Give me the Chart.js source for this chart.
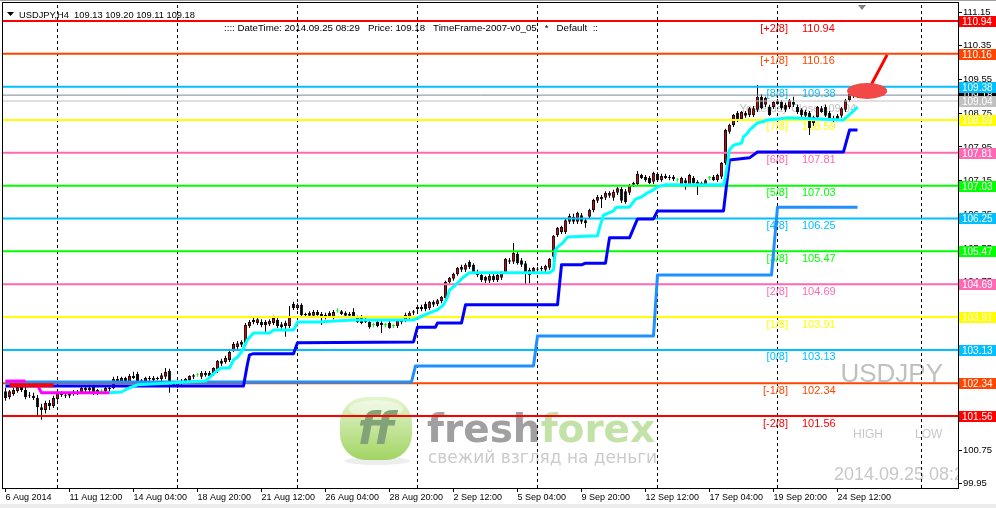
<!DOCTYPE html>
<html>
<head>
<meta charset="utf-8">
<script src="https://cdn.jsdelivr.net/npm/chart.js@4.4.1/dist/chart.umd.min.js"></script>
<style>
  html, body { margin: 0; padding: 0; background: #fff; }
  #wrap { width: 996px; height: 508px; }
</style>
</head>
<body>
<div id="wrap"><canvas id="chart" width="996" height="508"></canvas></div>
<script>
// USDJPY H4 candles, 6 Aug 20:00 .. 25 Sep 08:00
const opens = [
  102.15,102.01,102.08,102.15,102.25,102.18,102.06,102.04,101.99,101.77,
  101.70,101.87,101.80,101.96,102.11,102.06,102.04,102.08,102.13,102.11,
  102.23,102.18,102.25,102.11,102.15,102.15,102.23,102.22,102.44,102.39,
  102.46,102.37,102.51,102.56,102.37,102.39,102.46,102.41,102.46,102.44,
  102.49,102.63,102.34,102.27,102.34,102.37,102.41,102.49,102.53,102.49,
  102.58,102.58,102.56,102.65,102.87,102.84,102.89,103.13,103.20,103.32,
  103.29,103.70,103.79,103.77,103.79,103.79,103.74,103.77,103.84,103.74,
  103.70,103.70,104.22,104.12,104.20,103.98,104.01,103.94,104.03,103.98,
  103.96,104.01,103.91,104.05,104.05,104.01,103.98,104.03,103.89,103.91,
  103.84,103.79,103.72,103.79,103.77,103.72,103.77,103.70,103.70,103.82,
  103.84,103.89,104.01,104.15,104.10,104.22,104.12,104.27,104.22,104.29,
  104.36,104.74,104.82,104.93,105.10,105.03,105.22,105.15,104.98,104.91,
  104.86,104.77,104.89,104.79,104.84,104.98,105.26,105.22,105.41,105.26,
  105.19,105.03,104.98,105.05,105.05,105.03,105.08,105.34,105.86,105.93,
  105.93,106.17,106.29,106.17,106.33,106.21,106.29,106.45,106.67,106.76,
  106.74,106.79,106.74,106.86,106.95,106.90,106.86,107.05,107.07,107.28,
  107.24,107.21,107.12,107.31,107.16,107.26,107.21,107.24,107.16,107.07,
  107.16,107.07,107.21,107.12,107.07,107.07,107.21,107.24,107.16,107.24,
  107.57,108.31,108.47,108.76,108.61,108.76,108.71,108.71,108.83,109.14,
  108.95,108.90,108.90,109.04,109.02,108.95,108.90,109.02,108.90,108.83,
  108.78,108.76,108.52,108.66,108.87,108.90,108.76,108.64,108.69,108.69,
  108.83,109.06,109.21,109.13
];
const highs = [
  102.23,102.18,102.23,102.30,102.30,102.27,102.13,102.11,102.06,101.85,
  101.92,101.94,102.04,102.15,102.15,102.11,102.13,102.18,102.18,102.27,
  102.27,102.30,102.30,102.20,102.20,102.27,102.27,102.49,102.51,102.49,
  102.49,102.56,102.61,102.61,102.44,102.49,102.51,102.51,102.49,102.58,
  102.70,102.68,102.39,102.39,102.44,102.46,102.53,102.56,102.58,102.63,
  102.63,102.63,102.72,102.89,102.92,102.99,103.13,103.32,103.34,103.36,
  103.77,103.84,103.89,103.91,103.86,103.84,103.86,103.94,103.89,103.79,
  103.82,104.17,104.27,104.24,104.24,104.01,104.05,104.08,104.08,104.03,
  104.01,104.05,104.08,104.12,104.08,104.05,104.03,104.12,103.94,103.96,
  103.89,103.84,103.77,103.84,103.82,103.77,103.82,103.74,103.86,103.86,
  104.01,104.05,104.08,104.20,104.20,104.27,104.29,104.31,104.34,104.41,
  104.77,104.86,104.96,105.10,105.15,105.19,105.26,105.19,105.03,104.96,
  104.89,104.93,104.93,104.96,105.00,105.31,105.31,105.67,105.46,105.31,
  105.24,105.08,105.10,105.10,105.12,105.15,105.31,105.86,106.05,106.08,
  106.24,106.36,106.36,106.41,106.38,106.26,106.48,106.72,106.81,106.81,
  106.90,106.90,106.93,107.00,107.00,106.95,107.07,107.12,107.38,107.31,
  107.28,107.26,107.36,107.35,107.31,107.31,107.28,107.28,107.21,107.24,
  107.21,107.31,107.26,107.16,107.12,107.19,107.26,107.28,107.31,107.59,
  108.38,108.50,108.73,108.80,108.80,108.80,108.90,108.92,109.42,109.20,
  109.14,108.95,109.04,109.09,109.06,109.00,109.09,109.14,108.95,108.87,
  108.83,108.80,108.69,108.92,108.92,108.95,108.80,108.69,108.73,108.90,
  109.09,109.23,109.25,109.20
];
const lows = [
  101.92,101.96,102.04,102.11,102.13,101.96,101.99,101.94,101.54,101.47,
  101.62,101.70,101.75,101.92,102.01,101.99,101.99,102.04,102.06,102.08,
  102.13,102.13,102.06,102.06,102.11,102.11,102.15,102.20,102.37,102.34,
  102.34,102.32,102.44,102.32,102.34,102.34,102.39,102.37,102.41,102.39,
  102.44,102.11,102.25,102.23,102.30,102.32,102.37,102.44,102.49,102.44,
  102.49,102.46,102.51,102.58,102.75,102.80,102.84,103.08,103.15,103.20,
  103.25,103.65,103.74,103.72,103.67,103.55,103.70,103.72,103.65,103.63,
  103.44,103.65,104.08,104.08,103.91,103.91,103.89,103.89,103.94,103.72,
  103.86,103.89,103.86,104.01,103.96,103.91,103.91,103.89,103.77,103.74,
  103.77,103.63,103.67,103.67,103.53,103.67,103.63,103.65,103.65,103.74,
  103.79,103.84,103.96,104.05,104.05,104.05,104.08,104.15,104.17,104.24,
  104.31,104.70,104.77,104.89,104.98,104.98,105.05,104.93,104.86,104.74,
  104.72,104.72,104.74,104.74,104.79,104.93,105.17,105.17,105.15,105.10,
  104.67,104.71,104.93,105.00,105.00,104.98,105.03,105.29,105.81,105.88,
  105.88,106.12,106.12,106.12,106.12,106.03,106.24,106.40,106.62,106.50,
  106.69,106.74,106.67,106.81,106.62,106.60,106.81,107.00,107.02,107.19,
  107.12,107.07,107.07,107.12,107.12,107.19,107.16,107.14,107.12,107.02,
  106.93,107.02,107.05,106.81,107.02,107.02,107.16,107.14,107.12,107.19,
  107.52,108.26,108.42,108.54,108.57,108.64,108.66,108.66,108.78,108.85,
  108.90,108.69,108.85,108.95,108.83,108.78,108.85,108.90,108.73,108.66,
  108.64,108.23,108.45,108.61,108.76,108.66,108.57,108.54,108.57,108.64,
  108.78,109.02,109.11,109.11
];
const closes = [
  101.99,102.15,102.18,102.25,102.18,102.01,102.04,101.99,101.77,101.70,
  101.87,101.80,101.99,102.11,102.06,102.04,102.08,102.13,102.11,102.23,
  102.18,102.23,102.11,102.18,102.15,102.23,102.20,102.44,102.39,102.46,
  102.37,102.51,102.46,102.37,102.41,102.46,102.44,102.46,102.44,102.53,
  102.61,102.34,102.27,102.34,102.39,102.44,102.51,102.53,102.53,102.58,
  102.53,102.51,102.70,102.87,102.80,102.94,103.08,103.27,103.29,103.25,
  103.72,103.79,103.84,103.86,103.72,103.72,103.82,103.89,103.70,103.67,
  103.77,103.94,104.12,104.20,103.96,103.96,103.94,104.03,103.96,103.91,
  103.91,103.91,104.03,104.05,103.98,103.94,103.94,103.91,103.79,103.77,
  103.79,103.67,103.72,103.70,103.72,103.72,103.65,103.70,103.82,103.79,
  103.96,104.01,104.05,104.10,104.15,104.10,104.27,104.20,104.31,104.39,
  104.74,104.84,104.93,105.08,105.03,105.15,105.10,104.98,104.91,104.79,
  104.77,104.89,104.79,104.91,104.96,105.29,105.22,105.43,105.19,105.15,
  104.98,104.91,105.08,105.03,105.08,105.12,105.29,105.84,106.03,106.05,
  106.21,106.31,106.17,106.38,106.17,106.14,106.45,106.69,106.76,106.71,
  106.86,106.86,106.88,106.97,106.67,106.64,107.05,107.09,107.31,107.21,
  107.16,107.09,107.33,107.16,107.26,107.21,107.24,107.19,107.16,107.21,
  107.09,107.28,107.09,107.05,107.09,107.16,107.21,107.16,107.28,107.57,
  108.35,108.47,108.71,108.57,108.78,108.69,108.87,108.87,109.14,108.87,
  109.11,108.71,109.02,108.97,108.87,108.83,109.06,108.95,108.78,108.71,
  108.69,108.40,108.66,108.90,108.78,108.69,108.61,108.59,108.59,108.87,
  109.06,109.21,109.16,109.18
];

// Murrey Math levels
const levelPrices = [110.94, 110.16, 109.38, 108.59, 107.81, 107.03, 106.25, 105.47, 104.69, 103.91, 103.13, 102.34, 101.56];
const levelNames = ["[+2/8]", "[+1/8]", "[8/8]", "[7/8]", "[6/8]", "[5/8]", "[4/8]", "[3/8]", "[2/8]", "[1/8]", "[0/8]", "[-1/8]", "[-2/8]"];
const levelColors = ["#ff0000", "#ff4500", "#00bfff", "#ffff00", "#ff69b4", "#00ff00", "#00bfff", "#00ff00", "#ff69b4", "#ffff00", "#00bfff", "#ff4500", "#ff0000"];
const yesterdayClose = 109.04;
const bidPrice = 109.18;

// indicator lines, [bar index, price]
const cyanLine = [
  [26,102.11],[29,102.13],[31,102.23],[33,102.30],[40,102.34],[50,102.39],[53,102.65],[54,102.70],
  [56,102.70],[57,102.89],[58,102.96],[59,103.08],[60.5,103.37],[62,103.53],[66,103.53],[67,103.60],
  [72,103.60],[73,103.79],[78,103.79],[87,103.84],[102,103.84],[106,104.01],[108,104.08],[109.5,104.20],
  [110.5,104.39],[111,104.55],[112.5,104.67],[114.5,104.86],[116,104.96],[136,104.96],[137,105.03],
  [137.5,105.50],[138,105.57],[139.5,105.69],[140.5,105.81],[148,105.84],[148.5,106.03],[149.5,106.33],
  [152,106.43],[152.5,106.50],[153,106.52],[156,106.52],[157.5,106.71],[159,106.76],[160.5,106.86],
  [162,106.93],[163,107.00],[165,107.05],[179.5,107.05],[180,107.24],[181,107.88],[182,107.99],
  [184,108.04],[184.5,108.19],[185.5,108.28],[186,108.35],[188,108.52],[189,108.54],[190.5,108.59],
  [193,108.61],[195.5,108.64],[209.5,108.59],[211.75,108.78],[213,108.90]
];
const magentaStart = [[0,102.39],[5,102.39]];
const redStart = [[1,102.29],[12,102.29]];
const magentaLow = [[8,102.29],[9,102.11],[26,102.11]];
const blueLine = [
  [0,102.27],[59.5,102.27],[60.5,102.80],[61,103.01],[62,103.04],[72,103.04],[73,103.30],[102,103.32],
  [103,103.67],[107.5,103.67],[108,103.77],[114,103.77],[115,104.20],[138,104.20],[139,105.15],
  [144,105.15],[145,105.19],[150,105.19],[151,105.79],[156,105.79],[158,106.24],[162,106.24],
  [163,106.43],[179.5,106.43],[181,107.64],[186,107.69],[188,107.83],[209.5,107.83],[211,108.35],[213,108.35]
];
const dodgerLine = [
  [0,102.37],[101.5,102.37],[102.5,102.75],[132,102.75],[133,103.46],[162,103.46],
  [163,104.91],[191.5,104.91],[193,106.52],[213,106.52]
];

// axes
const yTicks = [111.15, 110.35, 109.55, 108.75, 107.95, 107.15, 106.35, 105.55, 104.75, 103.95, 103.15, 102.35, 101.55, 100.75, 99.95];
const xTickIdx = [0, 16, 32, 48, 64, 80, 96, 112, 128, 144, 160, 176, 192, 208];
const xTickLabels = ["6 Aug 2014", "11 Aug 12:00", "14 Aug 04:00", "18 Aug 20:00", "21 Aug 12:00", "26 Aug 04:00",
  "28 Aug 20:00", "2 Sep 12:00", "5 Sep 04:00", "9 Sep 20:00", "12 Sep 12:00", "17 Sep 04:00", "19 Sep 20:00", "24 Sep 12:00"];
const gridIdx = [13, 43, 73, 103, 133, 163, 193, 229];

const xMin = -0.625, xMax = 238.125;
const yMin = 99.85, yMax = 111.3675;
const last = closes.length - 1;
const FONT = "'Liberation Sans', Arial, sans-serif";

const isDoji = i => opens[i] === closes[i];
const bodyFill = opens.map((o, i) => isDoji(i) ? "#00ff00" : closes[i] > o ? "#ff0000" : "#000000");
const edgeColor = opens.map((o, i) => isDoji(i) ? "#00ff00" : "#000000");

function flatLine(price, color, width, order) {
  return {
    type: "line", data: [{ x: xMin, y: price }, { x: xMax, y: price }],
    borderColor: color, borderWidth: width, pointRadius: 0, fill: false, order: order
  };
}
function pathLine(points, color, width, order) {
  return {
    type: "line", data: points.map(p => ({ x: p[0], y: p[1] })),
    borderColor: color, borderWidth: width, pointRadius: 0, tension: 0, fill: false,
    borderJoinStyle: "round", order: order
  };
}

function drawLogo(c) {
  c.save();
  c.fillStyle = "rgba(0,0,0,0.07)";
  c.beginPath(); c.ellipse(377, 461, 33, 4, 0, 0, Math.PI * 2); c.fill();
  const g = c.createLinearGradient(0, 397, 0, 460);
  g.addColorStop(0, "#e4f5d0");
  g.addColorStop(0.5, "#c3e59a");
  g.addColorStop(1, "#a2d463");
  c.fillStyle = g;
  c.beginPath(); c.roundRect(340, 397, 72, 63, 26); c.fill();
  c.fillStyle = "rgba(255,255,255,0.45)";
  c.beginPath(); c.ellipse(376, 409, 27, 9, 0, 0, Math.PI * 2); c.fill();
  c.fillStyle = "#82a277";
  c.font = "italic bold 44px 'DejaVu Sans'";
  c.textAlign = "center"; c.textBaseline = "alphabetic";
  c.fillText("ff", 376, 444);
  c.textAlign = "left";
  c.font = "bold 39px 'DejaVu Sans'";
  c.fillStyle = "#a0a0a0";
  c.fillText("fresh", 427, 442);
  const w = c.measureText("fresh").width;
  c.fillStyle = "#c3e2a8";
  c.fillText("forex", 427 + w, 442);
  c.font = "17px 'DejaVu Sans'";
  c.fillStyle = "#cbcbcb";
  c.fillText("свежий взгляд на деньги", 428, 463);
  c.restore();
}

const mt4Decor = {
  id: "mt4Decor",
  beforeDraw(chart) {
    const c = chart.ctx;
    c.save();
    c.fillStyle = "#ffffff"; c.fillRect(0, 0, chart.width, chart.height);
    c.fillStyle = "#a0a0a0"; c.fillRect(0, 0, chart.width, 1);
    c.fillStyle = "#ececec"; c.fillRect(0, chart.height - 4, chart.width, 4);
    c.restore();
  },
  beforeDatasetsDraw(chart) {
    const c = chart.ctx, a = chart.chartArea, xs = chart.scales.x, ys = chart.scales.y;
    c.save();
    c.beginPath(); c.rect(a.left, a.top, a.right - a.left, a.bottom - a.top); c.clip();
    drawLogo(c);

    // watermark texts
    c.fillStyle = "#c0c0c0";
    c.textBaseline = "alphabetic";
    c.font = "26px " + FONT; c.textAlign = "right";
    c.fillText("USDJPY", 943, 382);
    c.font = "12px " + FONT; c.textAlign = "left"; c.fillStyle = "#c8c8c8";
    c.fillText("HIGH", 853, 438);
    c.fillText("LOW", 915, 438);
    c.font = "18px " + FONT;
    c.fillText("2014.09.25 08:29", 834, 480);

    // dashed vertical grid
    c.strokeStyle = "#000"; c.lineWidth = 1; c.setLineDash([3, 3]);
    gridIdx.forEach(g => {
      const x = Math.floor(xs.getPixelForValue(g)) + 0.5;
      c.beginPath(); c.moveTo(x, a.top + 2); c.lineTo(x, a.bottom); c.stroke();
    });
    c.setLineDash([]);

    // Murrey labels
    c.font = "11px " + FONT; c.textBaseline = "top";
    levelPrices.forEach((p, k) => {
      const y = ys.getPixelForValue(p);
      c.fillStyle = levelColors[k];
      c.textAlign = "right"; c.fillText(levelNames[k], 788, y + 2);
      c.textAlign = "left"; c.fillText(p.toFixed(2), 802, y + 2);
    });

    c.fillStyle = "#c0c0c0"; c.textAlign = "right"; c.textBaseline = "alphabetic";
    c.fillText("Yesterday Close " + yesterdayClose.toFixed(2), 856, ys.getPixelForValue(yesterdayClose) + 11);
    c.restore();
  },
  afterDatasetsDraw(chart) {
    const c = chart.ctx, xs = chart.scales.x, ys = chart.scales.y;
    c.save();
    // red marker on the last bars
    const cx = xs.getPixelForValue(215.4), cy = ys.getPixelForValue(109.28);
    c.strokeStyle = "#ff0000"; c.lineWidth = 3;
    c.beginPath(); c.moveTo(cx + 4, cy - 6); c.lineTo(cx + 20, cy - 36); c.stroke();
    c.fillStyle = "#f24848";
    c.beginPath(); c.ellipse(cx, cy, 20, 8, 0, 0, Math.PI * 2); c.fill();

    // header
    c.fillStyle = "#000";
    c.beginPath(); c.moveTo(7, 12); c.lineTo(14, 12); c.lineTo(10.5, 16); c.closePath(); c.fill();
    c.textAlign = "left"; c.textBaseline = "alphabetic";
    c.font = "9.3px " + FONT;
    c.fillText("USDJPY,H4  " + [opens[last], highs[last], lows[last], closes[last]].map(v => v.toFixed(2)).join(" "), 19, 18);
    c.font = "9.7px " + FONT;
    c.fillText(":::: DateTime: 2014.09.25 08:29   Price: " + closes[last].toFixed(2) + "   TimeFrame-2007-v0_05   *   Default  ::", 224, 31);

    // chart shift marker
    c.fillStyle = "#808080";
    c.beginPath(); c.moveTo(858, 5); c.lineTo(866, 5); c.lineTo(862, 10); c.closePath(); c.fill();
    c.restore();
  },
  afterDraw(chart) {
    const c = chart.ctx, a = chart.chartArea, ys = chart.scales.y;
    c.save();
    c.font = "10px " + FONT; c.textBaseline = "middle"; c.textAlign = "left";
    const box = (p, fill) => {
      const y = Math.round(ys.getPixelForValue(p));
      c.fillStyle = fill; c.fillRect(a.right + 1, y - 5, 37, 11);
      c.fillStyle = "#ffffff"; c.fillText(p.toFixed(2), a.right + 4, y + 1);
    };
    box(bidPrice, "#000000");
    levelPrices.forEach((p, k) => box(p, levelColors[k]));
    box(yesterdayClose, "#c0c0c0");
    c.strokeStyle = "#000"; c.lineWidth = 1;
    c.strokeRect(a.left - 0.5, a.top - 0.5, a.right - a.left + 1, a.bottom - a.top + 1);
    c.restore();
  }
};

const datasets = [
  pathLine(redStart, "#ff0000", 4, 1),
  pathLine(magentaStart, "#ff00ff", 3, 1),
  pathLine(magentaLow, "#ff00ff", 3, 1),
  pathLine(cyanLine, "#00ffff", 3, 2),
  pathLine(blueLine, "#0000ff", 3, 3),
  pathLine(dodgerLine, "#1e90ff", 3, 4),
  ...levelPrices.map((p, k) => flatLine(p, levelColors[k], 2, 10)),
  flatLine(bidPrice, "#778899", 1, 11),
  flatLine(yesterdayClose, "#c0c0c0", 1, 11),
  {
    type: "bar", label: "bodies",
    data: opens.map((o, i) => ({ x: i, y: [o, closes[i]] })),
    backgroundColor: bodyFill, borderColor: edgeColor, borderWidth: 1, borderSkipped: false,
    maxBarThickness: 3, minBarLength: 1, grouped: false, inflateAmount: 0, order: 20
  },
  {
    type: "bar", label: "wicks",
    data: opens.map((o, i) => ({ x: i, y: [lows[i], highs[i]] })),
    backgroundColor: edgeColor, borderWidth: 0, maxBarThickness: 1,
    grouped: false, inflateAmount: 0, order: 21
  }
];

new Chart(document.getElementById("chart"), {
  type: "bar",
  data: { datasets: datasets },
  options: {
    responsive: false,
    animation: false,
    devicePixelRatio: 1,
    events: [],
    layout: { padding: { left: 3, top: 3, right: 0, bottom: 0 }, autoPadding: false },
    plugins: { legend: { display: false }, tooltip: { enabled: false } },
    scales: {
      x: {
        type: "linear", min: xMin, max: xMax, offset: false,
        grid: { drawOnChartArea: false, drawTicks: true, tickLength: 4, color: "#000", offset: false },
        border: { display: false },
        ticks: {
          autoSkip: false, maxRotation: 0, minRotation: 0, align: "start", padding: 0,
          color: "#000", font: { family: FONT, size: 9 },
          callback: (v, i) => xTickLabels[i]
        },
        afterBuildTicks: s => { s.ticks = xTickIdx.map(v => ({ value: v })); },
        afterFit: s => { s.height = 20; s.paddingLeft = 0; s.paddingRight = 0; s.paddingTop = 0; s.paddingBottom = 0; }
      },
      y: {
        type: "linear", position: "right", min: yMin, max: yMax,
        grid: { drawOnChartArea: false, drawTicks: true, tickLength: 4, color: "#000" },
        border: { display: false },
        ticks: {
          autoSkip: false, padding: 1, color: "#000", font: { family: FONT, size: 9.5 },
          callback: v => v.toFixed(2)
        },
        afterBuildTicks: s => { s.ticks = yTicks.map(v => ({ value: v })); },
        afterFit: s => { s.width = 38; s.paddingLeft = 0; s.paddingRight = 0; s.paddingTop = 0; s.paddingBottom = 0; }
      }
    }
  },
  plugins: [mt4Decor]
});
</script>
</body>
</html>
